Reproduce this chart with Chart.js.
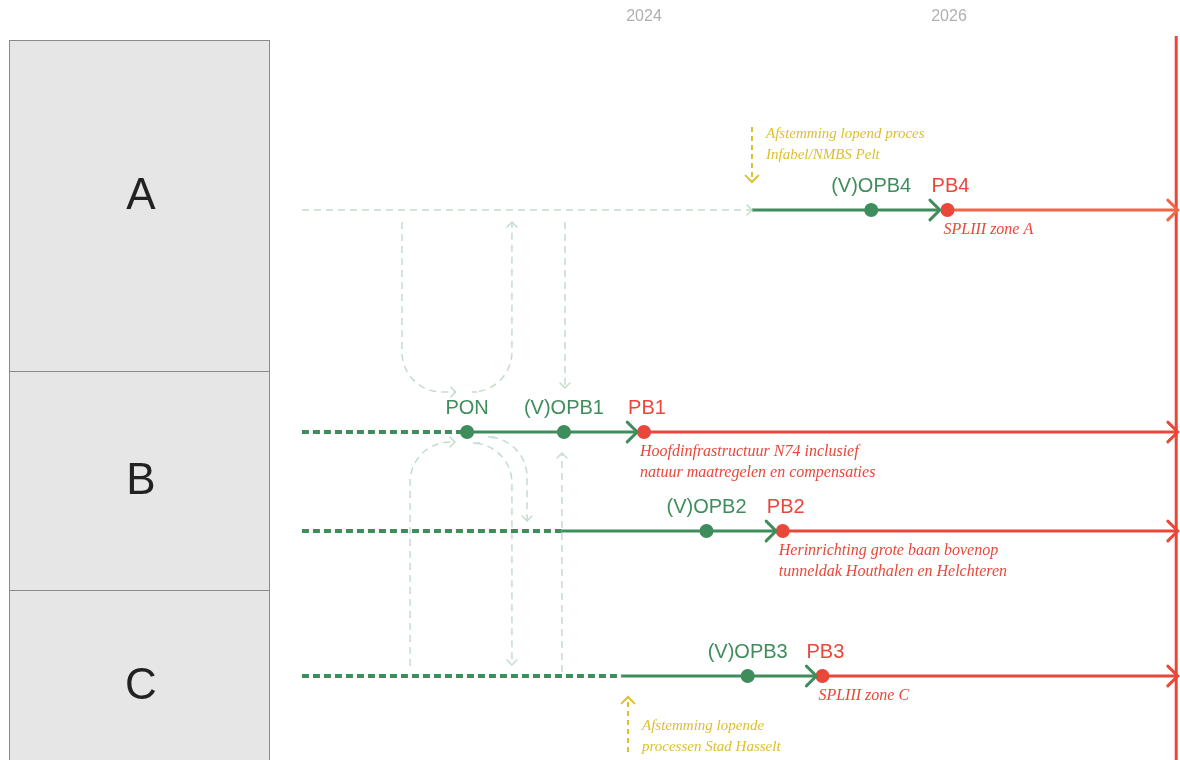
<!DOCTYPE html>
<html><head><meta charset="utf-8">
<script src="https://cdn.jsdelivr.net/npm/chart.js@4/dist/chart.umd.min.js"></script>
<style>html,body{margin:0;padding:0;background:#fff;overflow:hidden}</style>
</head><body>
<canvas id="c" width="1180" height="760"></canvas>
<script>
// ---------- DATA ----------
const tickYears = [2024, 2026];

const sectionNames = ['A', 'B', 'C'];
const sectionTop = [0, 3.31, 5.50];
const sectionBottom = [3.31, 5.50, 7.40];
const sectionLabelY = [1.57, 4.42, 6.47];

const laneNames = ['A', 'B1', 'B2', 'C'];
const laneY = [1.70, 3.92, 4.91, 6.36];
const laneStartX = [2021.757, 2021.757, 2021.757, 2021.757];
const greenStartX = [2024.708, 2022.840, 2023.460, 2023.850];
const greenArrowX = [2025.940, 2023.955, 2024.866, 2025.130];
const vopbNames = ['(V)OPB4', '(V)OPB1', '(V)OPB2', '(V)OPB3'];
const vopbX = [2025.490, 2023.475, 2024.410, 2024.680];
const pbNames = ['PB4', 'PB1', 'PB2', 'PB3'];
const pbX = [2025.990, 2024.000, 2024.910, 2025.170];
const endX = 2027.500;
const deadlineX = 2027.490;
const ponName = 'PON';
const ponX = 2022.840;
const ponLane = 1;
const pbNotes = [
  ['SPLIII zone A'],
  ['Hoofdinfrastructuur N74 inclusief', 'natuur maatregelen en compensaties'],
  ['Herinrichting grote baan bovenop', 'tunneldak Houthalen en Helchteren'],
  ['SPLIII zone C']
];

// coordination notes (yellow)
const syncX = [2024.708, 2023.895];
const syncFromY = [0.87, 7.12];
const syncToY = [1.42, 6.57];
const syncTextX = [2024.800, 2023.987];
const syncTextY = [0.94, 6.86];
const syncLines = [
  ['Afstemming lopend proces', 'Infabel/NMBS Pelt'],
  ['Afstemming lopende', 'processen Stad Hasselt']
];

// light dashed dependency links: [x, y] points, arrow at last point
const links = [
  [[2022.413, 1.82], [2022.413, 3.52], [2022.765, 3.52]],
  [[2022.905, 3.52], [2023.134, 3.52], [2023.134, 1.82]],
  [[2023.482, 1.82], [2023.482, 3.48]],
  [[2022.466, 6.26], [2022.466, 4.02], [2022.760, 4.02]],
  [[2022.925, 4.03], [2023.134, 4.03], [2023.134, 6.25]],
  [[2023.023, 3.97], [2023.233, 3.97], [2023.233, 4.81]],
  [[2023.462, 6.32], [2023.462, 4.13]]
];

// ---------- STYLE ----------
const GREEN = '#3f8d5c', RED = '#e9473a', ORANGE = '#ef6749', LIGHT = '#c4ddcb', YELLOW = '#dcc02c';
const SANS = '"Liberation Sans", Arial, sans-serif';
const SERIF = '"Liberation Serif", "Times New Roman", serif';

const datasets = [];
// dots on top
datasets.push({
  label: 'green', showLine: false, order: 0, clip: false,
  data: vopbX.map((x, i) => ({x, y: laneY[i]})).concat([{x: ponX, y: laneY[ponLane]}]),
  pointRadius: 7, pointHoverRadius: 7, backgroundColor: GREEN, borderWidth: 0
});
datasets.push({
  label: 'red', showLine: false, order: 0, clip: false,
  data: pbX.map((x, i) => ({x, y: laneY[i]})),
  pointRadius: 7, pointHoverRadius: 7, backgroundColor: RED, borderWidth: 0
});
// lanes
laneNames.forEach((n, i) => {
  if (i === 0) {
    datasets.push({label: 'faint ' + n, showLine: true, order: 2, clip: false,
      data: [{x: laneStartX[i], y: laneY[i]}, {x: greenStartX[i], y: laneY[i]}],
      borderColor: LIGHT, borderWidth: 1.5, borderDash: [7, 5], pointRadius: 0, arrow: 7, arrowWidth: 1.5});
  } else {
    datasets.push({label: 'dotted ' + n, showLine: true, order: 2, clip: false,
      data: [{x: laneStartX[i], y: laneY[i]}, {x: greenStartX[i], y: laneY[i]}],
      borderColor: GREEN, borderWidth: 4, borderDash: [7, 4], pointRadius: 0});
  }
  datasets.push({label: 'green ' + n, showLine: true, order: 1, clip: false,
    data: [{x: greenStartX[i], y: laneY[i]}, {x: greenArrowX[i], y: laneY[i]}],
    borderColor: GREEN, borderWidth: 3, pointRadius: 0, arrow: 14, arrowWidth: 3});
  datasets.push({label: 'red ' + n, showLine: true, order: 1, clip: false,
    data: [{x: pbX[i], y: laneY[i]}, {x: endX, y: laneY[i]}],
    borderColor: i === 0 ? ORANGE : RED, borderWidth: 3, pointRadius: 0, arrow: 14, arrowWidth: 3});
});
datasets.push({label: 'deadline', showLine: true, order: 1, clip: false,
  data: [{x: deadlineX, y: -0.04}, {x: deadlineX, y: 7.2}],
  borderColor: RED, borderWidth: 3, pointRadius: 0});

function chevron(ctx, tx, ty, ang, size, color, width) {
  ctx.save();
  ctx.setLineDash([]);
  ctx.strokeStyle = color; ctx.lineWidth = width; ctx.lineCap = 'round'; ctx.lineJoin = 'miter';
  ctx.beginPath();
  ctx.moveTo(tx - size * Math.cos(ang - Math.PI / 4), ty - size * Math.sin(ang - Math.PI / 4));
  ctx.lineTo(tx, ty);
  ctx.lineTo(tx - size * Math.cos(ang + Math.PI / 4), ty - size * Math.sin(ang + Math.PI / 4));
  ctx.stroke();
  ctx.restore();
}

const diagram = {
  id: 'diagram',
  beforeDatasetsDraw(chart) {
    const {ctx} = chart; const xs = chart.scales.x, ys = chart.scales.y;
    ctx.save();
    // section boxes
    sectionNames.forEach((n, i) => {
      const t = Math.round(ys.getPixelForValue(sectionTop[i])) + 0.5;
      const b = Math.round(ys.getPixelForValue(sectionBottom[i])) + 0.5;
      ctx.fillStyle = '#e6e6e6'; ctx.fillRect(9.5, t, 260, b - t);
      ctx.strokeStyle = '#8a8a8a'; ctx.lineWidth = 1; ctx.strokeRect(9.5, t, 260, b - t);
      ctx.fillStyle = '#222'; ctx.font = '44px ' + SANS; ctx.textAlign = 'center'; ctx.textBaseline = 'middle';
      ctx.fillText(n, 141, ys.getPixelForValue(sectionLabelY[i]));
    });
    // links
    ctx.strokeStyle = LIGHT; ctx.lineWidth = 1.5; ctx.setLineDash([7, 5]);
    links.forEach(pts => {
      const p = pts.map(q => [xs.getPixelForValue(q[0]), ys.getPixelForValue(q[1])]);
      ctx.beginPath(); ctx.moveTo(p[0][0], p[0][1]);
      for (let k = 1; k < p.length - 1; k++) ctx.arcTo(p[k][0], p[k][1], p[k + 1][0], p[k + 1][1], 40);
      const L = p[p.length - 1], P = p[p.length - 2];
      ctx.lineTo(L[0], L[1]); ctx.stroke();
      chevron(ctx, L[0], L[1], Math.atan2(L[1] - P[1], L[0] - P[0]), 7, LIGHT, 1.5);
    });
    // yellow sync arrows
    syncX.forEach((sx, i) => {
      const x = xs.getPixelForValue(sx), y0 = ys.getPixelForValue(syncFromY[i]), y1 = ys.getPixelForValue(syncToY[i]);
      ctx.strokeStyle = YELLOW; ctx.lineWidth = 2; ctx.setLineDash([5, 4]);
      ctx.beginPath(); ctx.moveTo(x, y0); ctx.lineTo(x, y1); ctx.stroke();
      chevron(ctx, x, y1, y1 > y0 ? Math.PI / 2 : -Math.PI / 2, 9, YELLOW, 2);
      ctx.fillStyle = YELLOW; ctx.font = 'italic 15px ' + SERIF; ctx.textAlign = 'left'; ctx.textBaseline = 'middle';
      syncLines[i].forEach((l, k) => ctx.fillText(l, xs.getPixelForValue(syncTextX[i]), ys.getPixelForValue(syncTextY[i]) + k * 21));
    });
    ctx.restore();
  },
  afterDatasetsDraw(chart) {
    const {ctx} = chart; const xs = chart.scales.x, ys = chart.scales.y;
    ctx.save();
    chart.data.datasets.forEach((d, i) => {
      if (!d.arrow) return;
      const pts = chart.getDatasetMeta(i).data;
      const L = pts[pts.length - 1], P = pts[pts.length - 2];
      chevron(ctx, L.x, L.y, Math.atan2(L.y - P.y, L.x - P.x), d.arrow, d.borderColor, d.arrowWidth);
    });
    ctx.textAlign = 'center'; ctx.textBaseline = 'middle'; ctx.font = '20px ' + SANS;
    laneY.forEach((ly, i) => {
      const y = ys.getPixelForValue(ly);
      ctx.fillStyle = GREEN; ctx.fillText(vopbNames[i], xs.getPixelForValue(vopbX[i]), y - 24);
      ctx.fillStyle = RED; ctx.fillText(pbNames[i], xs.getPixelForValue(pbX[i]) + 3, y - 24);
    });
    ctx.fillStyle = GREEN; ctx.fillText(ponName, xs.getPixelForValue(ponX), ys.getPixelForValue(laneY[ponLane]) - 24);
    ctx.textAlign = 'left'; ctx.font = 'italic 16px ' + SERIF; ctx.fillStyle = RED;
    laneY.forEach((ly, i) => {
      const y = ys.getPixelForValue(ly);
      pbNotes[i].forEach((l, k) => ctx.fillText(l, xs.getPixelForValue(pbX[i]) - 4, y + 20 + k * 21));
    });
    ctx.restore();
  }
};

new Chart(document.getElementById('c'), {
  type: 'scatter',
  data: {datasets},
  options: {
    responsive: false, animation: false, devicePixelRatio: 1,
    layout: {padding: 0, autoPadding: false},
    plugins: {legend: {display: false}, tooltip: {enabled: false}},
    events: [],
    scales: {
      x: {
        type: 'linear', position: 'top', min: 2021.6131, max: 2027.5148,
        afterBuildTicks: s => { s.ticks = tickYears.map(v => ({value: v})); },
        afterFit: s => { s.height = 40; },
        grid: {display: false, drawTicks: false}, border: {display: false},
        ticks: {color: '#b0b0b0', font: {size: 16, family: SANS}, padding: 14, autoSkip: false, maxRotation: 0,
          callback: v => String(v)}
      },
      y: {
        type: 'linear', reverse: true, min: 0, max: 7.2,
        afterFit: s => { s.width = 280; },
        grid: {display: false, drawTicks: false}, border: {display: false},
        ticks: {display: false}
      }
    }
  },
  plugins: [diagram]
});
</script>
</body></html>
